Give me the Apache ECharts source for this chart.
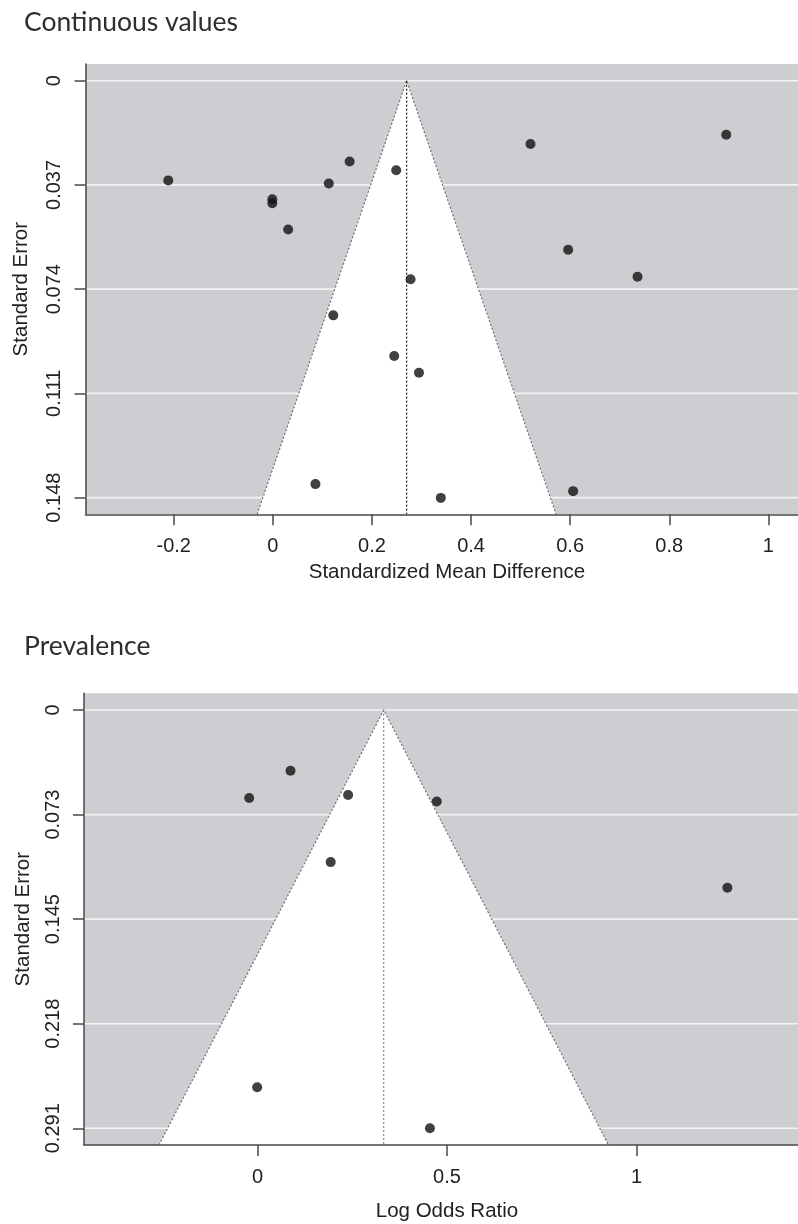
<!DOCTYPE html>
<html><head><meta charset="utf-8">
<script src="https://cdn.jsdelivr.net/npm/echarts@6/dist/echarts.min.js"></script>
<style>html,body{margin:0;padding:0;background:#fff}#c{width:798px;height:1224px}</style>
</head><body><div id="c"></div>
<script>
// ---- Panel 1: Continuous values (Standardized Mean Difference) ----
const smdEffects = [-0.211, -0.001, -0.001, 0.031, 0.113, 0.155, 0.249, 0.520, 0.915, 0.596, 0.736, 0.278, 0.122, 0.245, 0.295, 0.086, 0.339, 0.606];
const smdSE      = [0.0354, 0.0421, 0.0435, 0.0528, 0.0365, 0.0287, 0.0318, 0.0225, 0.0192, 0.0600, 0.0696, 0.0705, 0.0833, 0.0977, 0.1037, 0.1432, 0.1481, 0.1457];
const smdPooled  = 0.270;
const smdMaxSE   = 0.148;
const smdXTicks  = [-0.2, 0, 0.2, 0.4, 0.6, 0.8, 1];
const smdXLabels = ['-0.2', '0', '0.2', '0.4', '0.6', '0.8', '1'];
const smdYTicks  = [0, 0.037, 0.074, 0.111, 0.148];
const smdYLabels = ['0', '0.037', '0.074', '0.111', '0.148'];

// ---- Panel 2: Prevalence (Log Odds Ratio) ----
const lorEffects = [-0.022, 0.087, 0.239, 0.473, 0.193, 1.240, -0.001, 0.455];
const lorSE      = [0.0612, 0.0423, 0.0591, 0.0637, 0.1058, 0.1237, 0.2624, 0.2910];
const lorPooled  = 0.333;
const lorMaxSE   = 0.291;
const lorXTicks  = [0, 0.5, 1];
const lorXLabels = ['0', '0.5', '1'];
const lorYTicks  = [0, 0.07275, 0.1455, 0.21825, 0.291];
const lorYLabels = ['0', '0.073', '0.145', '0.218', '0.291'];

const titles = ['Continuous values', 'Prevalence'];
const xNames = ['Standardized Mean Difference', 'Log Odds Ratio'];
const yName = 'Standard Error';

const LBL_FONT = 'Liberation Sans, Arial, sans-serif';
const AX_COLOR = '#4a4a4a';

function labelFrom(ticks, labels) {
  return function (v) {
    const i = ticks.findIndex(t => Math.abs(t - v) < 1e-7);
    return i >= 0 ? labels[i] : '';
  };
}

function xAxisCfg(grid, min, max, ticks, labels, name, nameGap) {
  return {
    gridIndex: grid, type: 'value', min: min, max: max, z: 10,
    axisLine: { show: true, onZero: false, lineStyle: { color: AX_COLOR, width: 1.5 } },
    axisTick: { show: true, customValues: ticks, length: 11, lineStyle: { color: AX_COLOR, width: 1.5 } },
    axisLabel: { customValues: ticks, formatter: labelFrom(ticks, labels), fontSize: 20, color: '#222', margin: 22, fontFamily: LBL_FONT },
    splitLine: { show: false },
    name: name, nameLocation: 'middle', nameGap: nameGap,
    nameTextStyle: { fontSize: 20.5, color: '#222', fontFamily: LBL_FONT }
  };
}
function yAxisCfg(grid, maxSE, ticks, labels, nameGap) {
  return {
    gridIndex: grid, type: 'value', inverse: true, min: -0.04 * maxSE, max: 1.04 * maxSE, z: 10,
    axisLine: { show: true, onZero: false, lineStyle: { color: AX_COLOR, width: 1.5 } },
    axisTick: { show: true, customValues: ticks, length: 11, lineStyle: { color: AX_COLOR, width: 1.5 } },
    axisLabel: { customValues: ticks, formatter: labelFrom(ticks, labels), rotate: 90, fontSize: 20, color: '#222', margin: 21, fontFamily: LBL_FONT },
    splitLine: { show: false },
    name: yName, nameLocation: 'middle', nameGap: nameGap,
    nameTextStyle: { fontSize: 20.5, color: '#222', fontFamily: LBL_FONT }
  };
}

function gridLineItem(params, api) {
  const cs = params.coordSys;
  const y = api.coord([0, api.value(1)])[1];
  return { type: 'line', shape: { x1: cs.x, y1: y, x2: cs.x + cs.width, y2: y },
           style: { stroke: '#f3f3f3', lineWidth: 1.6 } };
}
function funnelMaker(centerColor, centerWidth) {
  return function (params, api) {
    const c = api.value(0), yb = api.value(1);
    const p1 = api.coord([c - 1.96 * yb, yb]);
    const p2 = api.coord([c, 0]);
    const p3 = api.coord([c + 1.96 * yb, yb]);
    return { type: 'group', children: [
      { type: 'polygon', shape: { points: [p1, p2, p3] }, style: { fill: '#ffffff' } },
      { type: 'polyline', shape: { points: [p1, p2, p3] }, style: { stroke: '#707070', lineWidth: 1.2, lineDash: [2, 2], fill: null } },
      { type: 'line', shape: { x1: p2[0], y1: p2[1], x2: p2[0], y2: p1[1] }, style: { stroke: centerColor, lineWidth: centerWidth, lineDash: [2, 2] } }
    ]};
  };
}

const chart = echarts.init(document.getElementById('c'), null, { renderer: 'canvas' });
chart.setOption({
  animation: false,
  backgroundColor: '#ffffff',
  graphic: [
    { type: 'text', left: 24, top: 9, style: { text: titles[0], font: '26.5px Lato, "Open Sans", sans-serif', fill: '#2e2e2e' } },
    { type: 'text', left: 24, top: 633, style: { text: titles[1], font: '26.5px Lato, "Open Sans", sans-serif', fill: '#2e2e2e' } }
  ],
  grid: [
    { left: 85.5, top: 64, width: 723, height: 450.3, show: true, backgroundColor: '#cdced1', borderWidth: 0, outerBoundsMode: 'none', containLabel: false },
    { left: 84, top: 693.3, width: 726, height: 451.7, show: true, backgroundColor: '#cdced1', borderWidth: 0, outerBoundsMode: 'none', containLabel: false }
  ],
  xAxis: [
    xAxisCfg(0, -0.378, 1.081, smdXTicks, smdXLabels, xNames[0], 48),
    xAxisCfg(1, -0.458, 1.458, lorXTicks, lorXLabels, xNames[1], 56)
  ],
  yAxis: [
    yAxisCfg(0, smdMaxSE, smdYTicks, smdYLabels, 54),
    yAxisCfg(1, lorMaxSE, lorYTicks, lorYLabels, 50)
  ],
  series: [
    { type: 'custom', xAxisIndex: 0, yAxisIndex: 0, z: 1, renderItem: gridLineItem,
      data: smdYTicks.map(v => [0, v]), encode: { x: 0, y: 1 } },
    { type: 'custom', xAxisIndex: 0, yAxisIndex: 0, z: 2, renderItem: funnelMaker('#2a2a2a', 1.3),
      data: [[smdPooled, 1.04 * smdMaxSE]], encode: { x: 0, y: 1 } },
    { type: 'scatter', xAxisIndex: 0, yAxisIndex: 0, z: 5, symbolSize: 10,
      itemStyle: { color: '#111111' }, data: smdEffects.map((v, i) => [v, smdSE[i]]) },
    { type: 'custom', xAxisIndex: 1, yAxisIndex: 1, z: 1, renderItem: gridLineItem,
      data: lorYTicks.map(v => [0, v]), encode: { x: 0, y: 1 } },
    { type: 'custom', xAxisIndex: 1, yAxisIndex: 1, z: 2, renderItem: funnelMaker('#7a7a7a', 1),
      data: [[lorPooled, 1.04 * lorMaxSE]], encode: { x: 0, y: 1 } },
    { type: 'scatter', xAxisIndex: 1, yAxisIndex: 1, z: 5, symbolSize: 10,
      itemStyle: { color: '#111111' }, data: lorEffects.map((v, i) => [v, lorSE[i]]) }
  ]
});
</script>
</body></html>
